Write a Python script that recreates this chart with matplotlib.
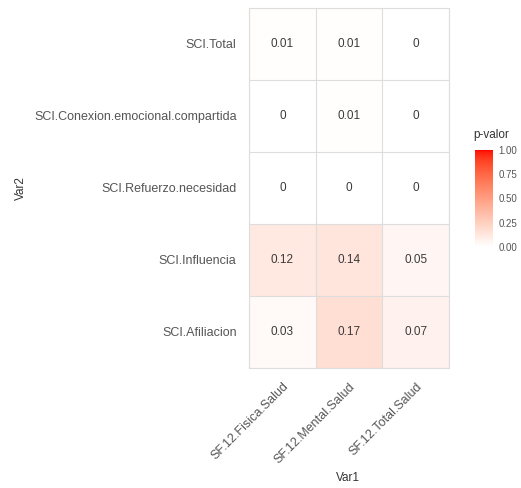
import numpy as np
import matplotlib
matplotlib.use("Agg")
import matplotlib.pyplot as plt
from matplotlib.colors import ListedColormap, Normalize
from matplotlib.patches import Rectangle

plt.rcParams['font.family'] = ['Liberation Sans', 'DejaVu Sans']

var1 = ["SF.12.Fisica.Salud", "SF.12.Mental.Salud", "SF.12.Total.Salud"]
var2 = ["SCI.Total", "SCI.Conexion.emocional.compartida", "SCI.Refuerzo.necesidad",
        "SCI.Influencia", "SCI.Afiliacion"]
pvals = np.array([
    [0.01, 0.01, 0.00],
    [0.00, 0.01, 0.00],
    [0.00, 0.00, 0.00],
    [0.12, 0.14, 0.05],
    [0.03, 0.17, 0.07],
])
labels = [["0.01", "0.01", "0"],
          ["0", "0.01", "0"],
          ["0", "0", "0"],
          ["0.12", "0.14", "0.05"],
          ["0.03", "0.17", "0.07"]]

# Lab interpolation white -> red (like ggplot scale_fill_gradient)
def srgb_to_lin(c):
    c = np.asarray(c, float)
    return np.where(c <= 0.04045, c / 12.92, ((c + 0.055) / 1.055) ** 2.4)

def lin_to_srgb(c):
    c = np.clip(c, 0, 1)
    return np.where(c <= 0.0031308, c * 12.92, 1.055 * c ** (1 / 2.4) - 0.055)

M = np.array([[0.4124, 0.3576, 0.1805], [0.2126, 0.7152, 0.0722], [0.0193, 0.1192, 0.9505]])
Minv = np.linalg.inv(M)
wp = np.array([0.95047, 1.0, 1.08883])

def f(t):
    d = 6 / 29
    return np.where(t > d ** 3, np.cbrt(t), t / (3 * d * d) + 4 / 29)

def finv(t):
    d = 6 / 29
    return np.where(t > d, t ** 3, 3 * d * d * (t - 4 / 29))

def rgb_to_lab(rgb):
    xyz = M @ srgb_to_lin(rgb) / wp
    fx, fy, fz = f(xyz)
    return np.array([116 * fy - 16, 500 * (fx - fy), 200 * (fy - fz)])

def lab_to_rgb(lab):
    L, a, b = lab
    fy = (L + 16) / 116
    fx = fy + a / 500
    fz = fy - b / 200
    xyz = np.array([finv(fx), finv(fy), finv(fz)]) * wp
    return lin_to_srgb(Minv @ xyz)

lw = rgb_to_lab([1, 1, 1])
lr = rgb_to_lab([1, 0, 0])
cols = [lab_to_rgb(lw + (lr - lw) * t) for t in np.linspace(0, 1, 256)]
cmap = ListedColormap(np.clip(cols, 0, 1))
norm = Normalize(0, 1)

fig = plt.figure(figsize=(5.21, 4.88), dpi=100)
ax = fig.add_axes([0.478, 0.246, 0.384, 0.738])
nr, nc = pvals.shape
for i in range(nr):
    for j in range(nc):
        y = nr - 1 - i
        ax.add_patch(Rectangle((j - 0.5, y - 0.5), 1, 1, facecolor=cmap(norm(pvals[i, j])),
                               edgecolor='none', zorder=1))
        ax.text(j, y, labels[i][j], ha='center', va='center', fontsize=8.5, color='#3a3a3a', zorder=3)
for k in range(nc + 1):
    ax.axvline(k - 0.5, color='#dddddd', lw=0.8, zorder=2)
for k in range(nr + 1):
    ax.axhline(k - 0.5, color='#dddddd', lw=0.8, zorder=2)
ax.set_xlim(-0.5, nc - 0.5)
ax.set_ylim(-0.5, nr - 0.5)
for s in ax.spines.values():
    s.set_color('#dddddd')
    s.set_linewidth(0.8)
ax.set_xticks(range(nc))
ax.set_xticklabels(var1, rotation=45, ha='right', rotation_mode='anchor', fontsize=9, color='#555555')
ax.set_yticks(range(nr))
ax.set_yticklabels(var2[::-1], fontsize=9, color='#555555')
ax.tick_params(length=0, pad=9)
fig.text(0.667, 0.02, "Var1", fontsize=8.5, color='#333333', ha='center', va='center')
fig.text(0.04, 0.615, "Var2", rotation=90, fontsize=8.5, color='#333333', ha='center', va='center')

cax = fig.add_axes([0.912, 0.494, 0.035, 0.199])
cb = fig.colorbar(plt.cm.ScalarMappable(norm=norm, cmap=cmap), cax=cax)
cb.outline.set_visible(False)
cb.set_ticks([0, 0.25, 0.5, 0.75, 1.0])
cb.set_ticklabels(["0.00", "0.25", "0.50", "0.75", "1.00"])
cax.tick_params(labelsize=7, colors='#555555', length=0, pad=3.5)
fig.text(0.908, 0.711, "p-valor", fontsize=8.5, color='#333333', ha='left', va='bottom')

fig.savefig("out.png", dpi=100)
